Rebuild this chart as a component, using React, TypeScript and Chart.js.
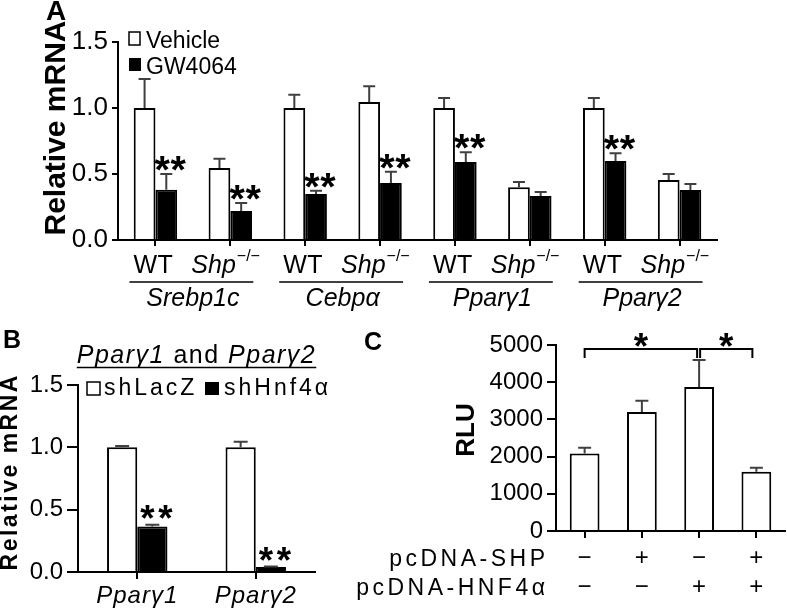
import React, { useEffect, useRef } from 'react';
import { Chart, registerables } from 'chart.js';

Chart.register(...registerables);

const FONT = '"Liberation Sans", Arial, Helvetica, sans-serif';
const W = 787;
const H = 612;

// ---------- Panel A ----------
const aCategories = ['WT', 'Shp−/−', 'WT', 'Shp−/−', 'WT', 'Shp−/−', 'WT', 'Shp−/−'];
const aGenes = ['Srebp1c', 'Cebpα', 'Pparγ1', 'Pparγ2'];
const aVehicle = [1.0, 0.545, 1.0, 1.045, 1.0, 0.40, 1.0, 0.455];
const aVehicleErr = [0.22, 0.07, 0.10, 0.12, 0.075, 0.04, 0.075, 0.045];
const aGW = [0.38, 0.22, 0.348, 0.432, 0.59, 0.333, 0.598, 0.379];
const aGWErr = [0.12, 0.06, 0.025, 0.085, 0.075, 0.03, 0.06, 0.045];
const aGWStars = ['**', '**', '**', '**', '**', '', '**', ''];
const aTicks = [0, 0.5, 1.0, 1.5];

// ---------- Panel B ----------
const bCategories = ['Pparγ1', 'Pparγ2'];
const bTitle = ['Pparγ1', ' and ', 'Pparγ2'];
const bLacZ = [1.0, 1.0];
const bLacZErr = [0.01, 0.045];
const bHnf4a = [0.365, 0.04];
const bHnf4aErr = [0.015, 0.005];
const bStars = ['**', '**'];
const bTicks = [0, 0.5, 1.0, 1.5];

// ---------- Panel C ----------
const cCategories = ['1', '2', '3', '4'];
const cRLU = [2080, 3200, 3870, 1590];
const cRLUErr = [160, 300, 725, 110];
const cRowLabels = ['pcDNA-SHP', 'pcDNA-HNF4α'];
const cSHP = ['−', '+', '−', '+'];
const cHNF4a = ['−', '−', '+', '+'];
const cComparisons = [[0, 2], [2, 3]];
const cComparisonStars = ['*', '*'];
const cBracketValue = 4890;
const cBracketLegValue = 4650;
const cTicks = [0, 1000, 2000, 3000, 4000, 5000];

// ---------- helpers ----------
function setSpacing(ctx: any, s: number) {
  try { ctx.letterSpacing = s + 'px'; } catch (e) { /* ignore */ }
}
function txt(ctx: any, s: string, x: number, y: number, font: string, align = 'left', baseline = 'alphabetic', spacing = 0) {
  ctx.font = font;
  ctx.textAlign = align;
  ctx.textBaseline = baseline;
  setSpacing(ctx, spacing);
  ctx.fillText(s, x, y);
  setSpacing(ctx, 0);
}
function tw(ctx: any, s: string, font: string, spacing = 0) {
  ctx.font = font;
  setSpacing(ctx, spacing);
  const w = ctx.measureText(s).width;
  setSpacing(ctx, 0);
  return w;
}
function rotated(ctx: any, s: string, cx: number, cy: number, font: string, spacing = 0) {
  ctx.save();
  ctx.translate(cx, cy);
  ctx.rotate(-Math.PI / 2);
  txt(ctx, s, spacing / 2, 0, font, 'center', 'middle', spacing);
  ctx.restore();
}
function star(ctx: any, cx: number, bottom: number, h: number) {
  ctx.font = `bold 100px ${FONT}`;
  ctx.textAlign = 'center';
  ctx.textBaseline = 'alphabetic';
  setSpacing(ctx, 0);
  const m = ctx.measureText('*');
  const gh = m.actualBoundingBoxAscent + m.actualBoundingBoxDescent;
  const k = h / gh;
  const size = 100 * k;
  const desc = m.actualBoundingBoxDescent * k;
  const xoff = ((m.actualBoundingBoxRight - m.actualBoundingBoxLeft) / 2) * k;
  ctx.font = `bold ${size}px ${FONT}`;
  ctx.fillText('*', cx - xoff, bottom - desc);
}
function stars(ctx: any, n: number, cx: number, bottom: number, h: number, pitch: number) {
  for (let k = 0; k < n; k++) star(ctx, cx + (k - (n - 1) / 2) * pitch, bottom, h);
}

const errorBars = {
  id: 'errorBars',
  afterDatasetsDraw(chart: any) {
    const ctx = chart.ctx;
    const ys = chart.scales.y;
    ctx.save();
    chart.data.datasets.forEach((ds: any, i: number) => {
      if (!ds.errors) return;
      const meta = chart.getDatasetMeta(i);
      meta.data.forEach((bar: any, j: number) => {
        const v = ds.data[j];
        const e = ds.errors[j];
        const y0 = ys.getPixelForValue(v);
        const y1 = ys.getPixelForValue(v + e);
        ctx.strokeStyle = '#404040';
        ctx.lineWidth = 2;
        ctx.beginPath();
        ctx.moveTo(bar.x, y0);
        ctx.lineTo(bar.x, y1);
        ctx.moveTo(bar.x - ds.errCap / 2, y1);
        ctx.lineTo(bar.x + ds.errCap / 2, y1);
        ctx.stroke();
      });
    });
    ctx.restore();
  },
};

function axisCommon(tickLen: number, padding: number, size: number) {
  return {
    grid: { display: true, drawOnChartArea: false, drawTicks: true, tickLength: tickLen, color: '#000', lineWidth: 2, offset: false },
    border: { display: true, color: '#000', width: 2 },
    ticks: { color: '#000', padding, font: { family: FONT, size } },
  };
}

// ---------- Panel A config ----------
const panelAPlugin = {
  id: 'panelA',
  afterDraw(chart: any) {
    const ctx = chart.ctx;
    const xs = chart.scales.x;
    const ys = chart.scales.y;
    ctx.save();
    ctx.fillStyle = '#000';
    ctx.strokeStyle = '#000';
    txt(ctx, 'A', 46, 20, `bold 28px ${FONT}`);
    rotated(ctx, 'Relative mRNA', 57, 128, `bold 30px ${FONT}`);
    // legend
    const ds = chart.data.datasets;
    ctx.fillStyle = '#fff';
    ctx.fillRect(129, 32, 11, 13);
    ctx.lineWidth = 1.5;
    ctx.strokeRect(129, 32, 11, 13);
    ctx.fillStyle = '#000';
    ctx.fillRect(129, 58, 12, 13);
    txt(ctx, ds[0].label, 146, 48, `23px ${FONT}`);
    txt(ctx, ds[1].label, 146, 74, `23px ${FONT}`);
    // x labels
    aCategories.forEach((lab, i) => {
      const x = xs.getPixelForValue(i);
      if (lab.endsWith('−/−')) {
        const base = lab.slice(0, -3);
        const fI = `italic 25px ${FONT}`;
        const left = x - 39;
        txt(ctx, base, left, 273, fI);
        txt(ctx, '−/−', left + tw(ctx, base, fI) + 1, 261, `16px ${FONT}`);
      } else {
        txt(ctx, lab, x - 2, 273, `25px ${FONT}`, 'center', 'alphabetic', 0.5);
      }
    });
    aGenes.forEach((g, k) => {
      const x1 = xs.getPixelForValue(2 * k);
      const x2 = xs.getPixelForValue(2 * k + 1);
      ctx.lineWidth = 1.5;
      ctx.beginPath();
      ctx.moveTo(x1 - 26, 282);
      ctx.lineTo(x2 + 23, 282);
      ctx.stroke();
      txt(ctx, g, (x1 + x2) / 2, 306, `italic 25px ${FONT}`, 'center');
    });
    // significance
    const meta = chart.getDatasetMeta(1);
    meta.data.forEach((bar: any, j: number) => {
      const s = aGWStars[j];
      if (!s) return;
      const top = ys.getPixelForValue(aGW[j] + aGWErr[j]);
      stars(ctx, s.length, bar.x + 4, top - 3, 15, 16);
    });
    ctx.restore();
  },
};

function configA(): any {
  return {
    type: 'bar',
    data: {
      labels: aCategories,
      datasets: [
        { label: 'Vehicle', data: aVehicle, errors: aVehicleErr, errCap: 12, backgroundColor: '#fff', borderColor: '#000', borderWidth: 2, categoryPercentage: 0.58, barPercentage: 1 },
        { label: 'GW4064', data: aGW, errors: aGWErr, errCap: 12, backgroundColor: '#000', borderColor: '#000', borderWidth: 2, categoryPercentage: 0.58, barPercentage: 1 },
      ],
    },
    options: {
      responsive: false,
      animation: false,
      events: [],
      layout: { padding: { left: 0, top: 42, right: W - 717, bottom: 0 } },
      plugins: { legend: { display: false }, tooltip: { enabled: false } },
      scales: {
        x: {
          ...axisCommon(6, 2, 25),
          ticks: { display: false },
          afterFit: (s: any) => { s.height = H - 240; },
        },
        y: {
          ...axisCommon(6, 4, 25),
          min: 0,
          max: 1.5,
          afterBuildTicks: (s: any) => { s.ticks = aTicks.map((v) => ({ value: v })); },
          ticks: { color: '#000', padding: 4, font: { family: FONT, size: 26 }, callback: (v: any) => Number(v).toFixed(1) },
          afterFit: (s: any) => { s.width = 118; },
        },
      },
    },
    plugins: [errorBars, panelAPlugin],
  };
}

// ---------- Panel B config ----------
const panelBPlugin = {
  id: 'panelB',
  afterDraw(chart: any) {
    const ctx = chart.ctx;
    const xs = chart.scales.x;
    const ys = chart.scales.y;
    ctx.save();
    ctx.fillStyle = '#000';
    ctx.strokeStyle = '#000';
    txt(ctx, 'B', 3, 348, `bold 25px ${FONT}`);
    rotated(ctx, 'Relative mRNA', 11, 473, `bold 23px ${FONT}`, 2.5);
    // title
    const fonts = [`italic 25px ${FONT}`, `25px ${FONT}`, `italic 25px ${FONT}`];
    const widths = bTitle.map((t, i) => tw(ctx, t, fonts[i], 1.5));
    const total = widths.reduce((a, b) => a + b, 0);
    let x = (xs.left + xs.right) / 2 - total / 2;
    const x0 = x;
    bTitle.forEach((t, i) => { txt(ctx, t, x, 363, fonts[i], 'left', 'alphabetic', 1.5); x += widths[i]; });
    ctx.lineWidth = 1.5;
    ctx.beginPath();
    ctx.moveTo(x0, 367.5);
    ctx.lineTo(x, 367.5);
    ctx.stroke();
    // legend
    const ds = chart.data.datasets;
    ctx.fillStyle = '#fff';
    ctx.fillRect(87, 382, 13, 13);
    ctx.lineWidth = 1.5;
    ctx.strokeRect(87, 382, 13, 13);
    ctx.fillStyle = '#000';
    ctx.fillRect(205, 382, 14, 13);
    txt(ctx, ds[0].label, 104, 395, `23px ${FONT}`, 'left', 'alphabetic', 3);
    txt(ctx, ds[1].label, 224, 395, `23px ${FONT}`, 'left', 'alphabetic', 3);
    // x labels
    bCategories.forEach((lab, i) => {
      txt(ctx, lab, xs.getPixelForValue(i), 603, `italic 24px ${FONT}`, 'center', 'alphabetic', 1);
    });
    const meta = chart.getDatasetMeta(1);
    meta.data.forEach((bar: any, j: number) => {
      const s = bStars[j];
      if (!s) return;
      const top = ys.getPixelForValue(bHnf4a[j] + bHnf4aErr[j]);
      stars(ctx, s.length, bar.x + 4, top - 5, 14, 18);
    });
    ctx.restore();
  },
};

function configB(): any {
  return {
    type: 'bar',
    data: {
      labels: bCategories,
      datasets: [
        { label: 'shLacZ', data: bLacZ, errors: bLacZErr, errCap: 14, backgroundColor: '#fff', borderColor: '#000', borderWidth: 2, categoryPercentage: 0.51, barPercentage: 1 },
        { label: 'shHnf4α', data: bHnf4a, errors: bHnf4aErr, errCap: 14, backgroundColor: '#000', borderColor: '#000', borderWidth: 2, categoryPercentage: 0.51, barPercentage: 1 },
      ],
    },
    options: {
      responsive: false,
      animation: false,
      events: [],
      layout: { padding: { left: 0, top: 385, right: W - 315, bottom: 0 } },
      plugins: { legend: { display: false }, tooltip: { enabled: false } },
      scales: {
        x: {
          ...axisCommon(7, 2, 24),
          ticks: { display: false },
          afterFit: (s: any) => { s.height = H - 572; },
        },
        y: {
          ...axisCommon(11, 4, 24),
          min: 0,
          max: 1.5,
          afterBuildTicks: (s: any) => { s.ticks = bTicks.map((v) => ({ value: v })); },
          ticks: { color: '#000', padding: 4, font: { family: FONT, size: 24 }, callback: (v: any) => Number(v).toFixed(1) },
          afterFit: (s: any) => { s.width = 78; },
        },
      },
    },
    plugins: [errorBars, panelBPlugin],
  };
}

// ---------- Panel C config ----------
const panelCPlugin = {
  id: 'panelC',
  afterDraw(chart: any) {
    const ctx = chart.ctx;
    const ys = chart.scales.y;
    ctx.save();
    ctx.fillStyle = '#000';
    ctx.strokeStyle = '#000';
    txt(ctx, 'C', 364, 350, `bold 25px ${FONT}`);
    rotated(ctx, 'RLU', 467, 430, `bold 26px ${FONT}`);
    // row labels
    const rf = `23px ${FONT}`;
    const sp = 3.5;
    const rowBase = [566, 595];
    const rowMid = [558, 587];
    cRowLabels.forEach((lab, r) => {
      const w = tw(ctx, lab, rf, sp);
      txt(ctx, lab, 545 - w + sp, rowBase[r], rf, 'left', 'alphabetic', sp);
    });
    const meta = chart.getDatasetMeta(0);
    [cSHP, cHNF4a].forEach((row, r) => {
      row.forEach((sgn, j) => {
        txt(ctx, sgn, meta.data[j].x, rowMid[r], `24px ${FONT}`, 'center', 'middle');
      });
    });
    // brackets
    const yb = ys.getPixelForValue(cBracketValue);
    const yl = ys.getPixelForValue(cBracketLegValue);
    cComparisons.forEach(([a, b], k) => {
      const x1 = meta.data[a].x + (k === 0 ? 0 : 1);
      const x2 = meta.data[b].x - (k === 0 ? 2 : 4);
      ctx.lineWidth = 2;
      ctx.beginPath();
      ctx.moveTo(x1, yl);
      ctx.lineTo(x1, yb);
      ctx.lineTo(x2, yb);
      ctx.lineTo(x2, yl);
      ctx.stroke();
      stars(ctx, cComparisonStars[k].length, (x1 + x2) / 2, yb - 2, 14, 16);
    });
    ctx.restore();
  },
};

function configC(): any {
  return {
    type: 'bar',
    data: {
      labels: cCategories,
      datasets: [
        { label: 'RLU', data: cRLU, errors: cRLUErr, errCap: 13, backgroundColor: '#fff', borderColor: '#000', borderWidth: 2, categoryPercentage: 0.52, barPercentage: 1 },
      ],
    },
    options: {
      responsive: false,
      animation: false,
      events: [],
      layout: { padding: { left: 0, top: 345, right: W - 785, bottom: 0 } },
      plugins: { legend: { display: false }, tooltip: { enabled: false } },
      scales: {
        x: {
          ...axisCommon(7, 2, 22),
          ticks: { display: false },
          afterFit: (s: any) => { s.height = H - 531; },
        },
        y: {
          ...axisCommon(9, 4, 24),
          min: 0,
          max: 5000,
          afterBuildTicks: (s: any) => { s.ticks = cTicks.map((v) => ({ value: v })); },
          ticks: { color: '#000', padding: 4, font: { family: FONT, size: 24 }, callback: (v: any) => String(v) },
          afterFit: (s: any) => { s.width = 556; },
        },
      },
    },
    plugins: [errorBars, panelCPlugin],
  };
}

export default function App() {
  const aRef = useRef<HTMLCanvasElement>(null);
  const bRef = useRef<HTMLCanvasElement>(null);
  const cRef = useRef<HTMLCanvasElement>(null);

  useEffect(() => {
    const charts = [
      new Chart(aRef.current as HTMLCanvasElement, configA()),
      new Chart(bRef.current as HTMLCanvasElement, configB()),
      new Chart(cRef.current as HTMLCanvasElement, configC()),
    ];
    return () => charts.forEach((c) => c.destroy());
  }, []);

  const st: React.CSSProperties = { position: 'absolute', left: 0, top: 0, width: W, height: H };
  return (
    <div style={{ position: 'fixed', left: 0, top: 0, width: W, height: H, background: '#fff' }}>
      <canvas ref={aRef} width={W} height={H} style={st} />
      <canvas ref={bRef} width={W} height={H} style={st} />
      <canvas ref={cRef} width={W} height={H} style={st} />
    </div>
  );
}
